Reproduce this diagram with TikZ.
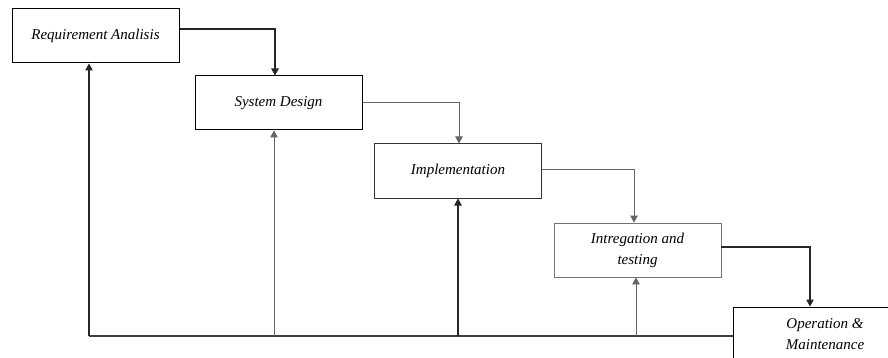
\documentclass[tikz,border=0pt]{standalone}
\usepackage{fontspec}
\setmainfont{Liberation Serif}
\usetikzlibrary{arrows.meta}
\begin{document}
\begin{tikzpicture}[x=1pt,y=-1pt,
  box/.style={draw=black,line width=1pt,fill=white,minimum width=167pt,minimum height=54pt,
    inner sep=0pt,align=center,font=\itshape\fontsize{15}{21}\selectfont},
  lightbox/.style={box,draw=black!55,line width=0.8pt},
  tip/.style={-{Triangle[length=7pt,width=7.5pt]}},
  flowdark/.style={draw=black!85,line width=1.1pt,tip},
  flowlight/.style={draw=black!60,line width=0.8pt,tip},
  busline/.style={draw=black!75,line width=1.4pt}]
\useasboundingbox (0,0) rectangle (888,358);
\clip (0,0) rectangle (888,358);
\fill[white] (0,0) rectangle (888,358);

% phase boxes
\node[box]      (b1) at (95.5,36)  {Requirement Analisis};
\node[box]      (b2) at (278.5,103) {System Design};
\node[box,draw=black!80] (b3) at (458,171) {Implementation};
\node[lightbox] (b4) at (637.5,250) {Intregation and\\testing};
\node[box,minimum width=184pt] (b5) at (825,334) {Operation \&\\Maintenance};

% forward flow
\draw[flowdark]  ([yshift=7pt]b1.east) -| ([xshift=-3.5pt]b2.north);
\draw[flowlight] ([yshift=1pt]b2.east) -| ([xshift=1pt]b3.north);
\draw[flowlight] ([yshift=2pt]b3.east) -| ([xshift=-3.5pt]b4.north);
\draw[flowdark]  ([yshift=3pt]b4.east) -| ([xshift=-15pt]b5.north);

% feedback bus
\coordinate (busY) at (0,336);
\draw[busline] (b5.west |- busY) -- ([xshift=-6.5pt]b1.south |- busY);
\draw[flowdark]  ([xshift=-6.5pt]b1.south |- busY) -- ([xshift=-6.5pt]b1.south);
\draw[flowlight] ([xshift=-4.5pt]b2.south |- busY) -- ([xshift=-4.5pt]b2.south);
\draw[flowdark]  (b3.south |- busY) -- (b3.south);
\draw[flowlight] ([xshift=-1.5pt]b4.south |- busY) -- ([xshift=-1.5pt]b4.south);
\end{tikzpicture}
\end{document}
